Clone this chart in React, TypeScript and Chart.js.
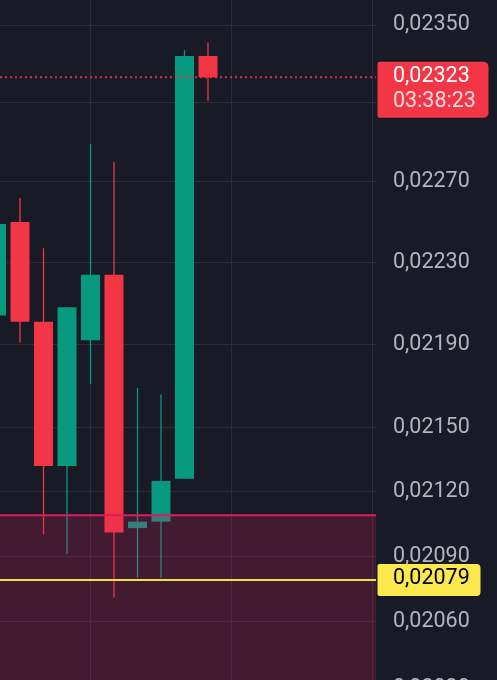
import React, { useEffect, useRef } from "react";
import { Chart, registerables } from "chart.js";

Chart.register(...registerables);

// ---- data ----
const candleIndex = [0, 1, 2, 3, 4, 5, 6, 7, 8, 9];
const opens = [0.02204, 0.0225, 0.02201, 0.02132, 0.02192, 0.02224, 0.02103, 0.02106, 0.02126, 0.02334];
const highs = [0.02255, 0.02262, 0.02237, 0.02208, 0.02289, 0.0228, 0.02169, 0.02166, 0.02337, 0.02341];
const lows = [0.02195, 0.02191, 0.021, 0.02091, 0.02171, 0.02071, 0.0208, 0.0208, 0.02126, 0.02311];
const closes = [0.02249, 0.02201, 0.02132, 0.02208, 0.02224, 0.02101, 0.02106, 0.02125, 0.02334, 0.02323];
const yTicks = [0.0235, 0.0231, 0.0227, 0.0223, 0.0219, 0.0215, 0.0212, 0.0209, 0.0206, 0.0203];
const hiddenTicks = [0.0231];
const xGridTicks = [4, 10, 16];
const lastPrice = 0.02323;
const countdown = "03:38:23";
const alertPrice = 0.02079;
const zoneTop = 0.02109;

// visible span of the price axis (top tick / lower reference tick)
const spanTopValue = 0.0235;
const spanBottomValue = 0.0206;

const GREEN = "#089981";
const RED = "#f23645";
const BG = "#181b25";
const GRID = "#2a2e39";
const TEXT = "#b2b5be";
const FONT = "Roboto";
const FONT_SIZE = 21.5;

const fmt = (v: number) => v.toFixed(5).replace(".", ",");

export default function App() {
  const ref = useRef<HTMLCanvasElement | null>(null);

  useEffect(() => {
    if (!ref.current) return;
    const colors = candleIndex.map((i) => (closes[i] >= opens[i] ? GREEN : RED));

    const overlay = {
      id: "overlay",
      beforeDraw(chart: any) {
        const { ctx, width, height } = chart;
        ctx.save();
        ctx.fillStyle = BG;
        ctx.fillRect(0, 0, width, height);
        ctx.restore();
      },
      afterDatasetsDraw(chart: any) {
        const { ctx, chartArea } = chart;
        const y = chart.scales.y;
        ctx.save();
        ctx.beginPath();
        ctx.rect(chartArea.left, chartArea.top, chartArea.right - chartArea.left, chartArea.bottom - chartArea.top);
        ctx.clip();
        const yz = y.getPixelForValue(zoneTop);
        ctx.fillStyle = "rgba(233,30,99,0.2)";
        ctx.fillRect(chartArea.left, yz, chartArea.right - chartArea.left, chartArea.bottom - yz);
        ctx.strokeStyle = "#dc1c5e";
        ctx.lineWidth = 2;
        ctx.beginPath();
        ctx.moveTo(chartArea.left, yz);
        ctx.lineTo(chartArea.right, yz);
        ctx.stroke();
        const ya = y.getPixelForValue(alertPrice);
        ctx.strokeStyle = "#f5df4d";
        ctx.lineWidth = 2;
        ctx.beginPath();
        ctx.moveTo(chartArea.left, ya);
        ctx.lineTo(chartArea.right, ya);
        ctx.stroke();
        const yl = y.getPixelForValue(lastPrice);
        ctx.strokeStyle = "rgba(242,54,69,0.9)";
        ctx.lineWidth = 2;
        ctx.setLineDash([2, 3]);
        ctx.beginPath();
        ctx.moveTo(chartArea.left, yl);
        ctx.lineTo(chartArea.right, yl);
        ctx.stroke();
        ctx.restore();
      },
      afterDraw(chart: any) {
        const { ctx, chartArea } = chart;
        const y = chart.scales.y;
        const x0 = chartArea.right + 1.5;
        const tx = chartArea.right + 17;
        ctx.save();
        ctx.font = `${FONT_SIZE}px ${FONT}`;
        ctx.textBaseline = "middle";
        ctx.textAlign = "left";
        const yl = y.getPixelForValue(lastPrice);
        ctx.fillStyle = RED;
        ctx.beginPath();
        (ctx as any).roundRect(x0, yl - 15.5, 111, 56, [2, 5, 5, 2]);
        ctx.fill();
        ctx.fillStyle = "#ffffff";
        ctx.fillText(fmt(lastPrice), tx, yl - 1);
        ctx.fillStyle = "rgba(255,255,255,0.82)";
        ctx.fillText(countdown, tx, yl + 24.5);
        const ya = y.getPixelForValue(alertPrice);
        ctx.fillStyle = "#fbe84d";
        ctx.beginPath();
        (ctx as any).roundRect(x0, ya - 16, 103, 32, [2, 4, 4, 2]);
        ctx.fill();
        ctx.fillStyle = "#000000";
        ctx.fillText(fmt(alertPrice), tx, ya - 1);
        ctx.restore();
      },
    };

    const chart = new Chart(ref.current, {
      type: "bar",
      data: {
        datasets: [
          {
            label: "wick",
            data: candleIndex.map((i) => ({ x: i, y: [lows[i], highs[i]] })) as any,
            backgroundColor: colors,
            barThickness: 1.3,
            grouped: false,
            inflateAmount: 0,
          } as any,
          {
            label: "body",
            data: candleIndex.map((i) => ({
              x: i,
              y: [Math.min(opens[i], closes[i]), Math.max(opens[i], closes[i])],
            })) as any,
            backgroundColor: colors,
            barThickness: 19,
            grouped: false,
            inflateAmount: 0,
          } as any,
        ],
      },
      options: {
        animation: false,
        responsive: false,
        events: [],
        layout: { padding: 0 },
        plugins: { legend: { display: false }, tooltip: { enabled: false } },
        scales: {
          x: {
            type: "linear",
            min: 3.5 / 23.5,
            max: 3.5 / 23.5 + 16,
            offset: false,
            afterBuildTicks: (s: any) => {
              s.ticks = xGridTicks.map((v) => ({ value: v }));
            },
            afterFit: (s: any) => {
              s.height = 0;
              s.paddingLeft = 0;
              s.paddingRight = 0;
            },
            ticks: { display: false },
            grid: { color: GRID, drawTicks: false, offset: false, lineWidth: 1 },
            border: { display: false },
          },
          y: {
            type: "logarithmic",
            position: "right",
            min: 0.020158,
            max: 0.02363,
            bounds: "data",
            afterBuildTicks: (s: any) => {
              s.ticks = yTicks.map((v) => ({ value: v }));
            },
            afterFit: (s: any) => {
              s.width = 121;
              s.paddingTop = 0;
              s.paddingBottom = 0;
            },
            ticks: {
              autoSkip: false,
              padding: 17,
              color: TEXT,
              font: { family: FONT, size: FONT_SIZE },
              callback: (v: any) => {
                const n = Number(v);
                if (hiddenTicks.some((h) => Math.abs(h - n) < 1e-9)) return "";
                return fmt(n);
              },
            },
            grid: { color: GRID, drawTicks: false, lineWidth: 1 },
            border: { display: false },
          },
        },
      } as any,
      plugins: [overlay],
    });

    // fit the log range so that the top tick sits at y=25 and 0,02060 at y=621.7
    const top = chart.chartArea.top;
    const bottom = chart.chartArea.bottom;
    const yTopPx = 25;
    const yBotPx = 621.7;
    const k = (yBotPx - yTopPx) / Math.log(spanTopValue / spanBottomValue);
    const lnMax = Math.log(spanTopValue) + (yTopPx - top) / k;
    const lnMin = Math.log(spanTopValue) - (bottom - yTopPx) / k;
    (chart.options.scales as any).y.min = Math.exp(lnMin);
    (chart.options.scales as any).y.max = Math.exp(lnMax);
    chart.update();

    return () => chart.destroy();
  }, []);

  return (
    <div style={{ position: "fixed", top: 0, left: 0, width: 497, height: 720, overflow: "hidden" }}>
      <canvas ref={ref} width={497} height={720} style={{ display: "block", width: 497, height: 720 }} />
    </div>
  );
}
